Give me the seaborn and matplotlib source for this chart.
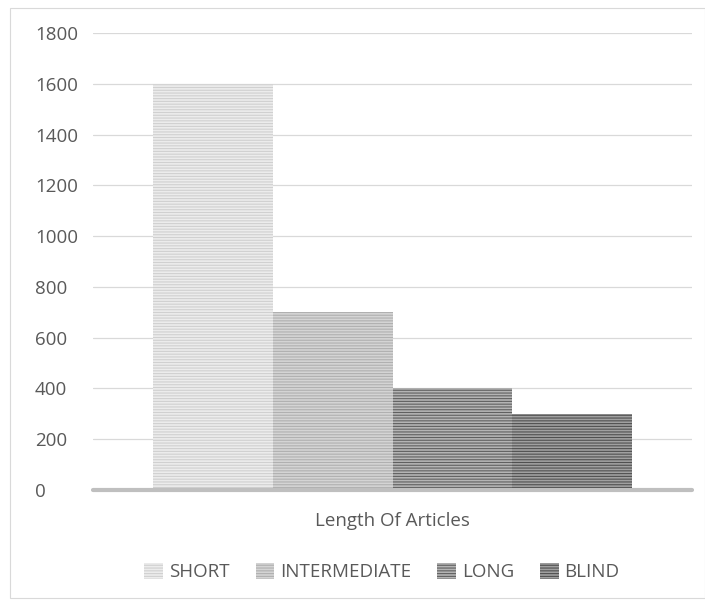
import matplotlib
matplotlib.use("Agg")
import matplotlib.pyplot as plt
import seaborn as sns
import pandas as pd
from matplotlib.patches import Rectangle, Patch

categories = ["SHORT", "INTERMEDIATE", "LONG", "BLIND"]
values = [1600, 700, 400, 300]
group = ["Length Of Articles"] * 4
yticks = [0, 200, 400, 600, 800, 1000, 1200, 1400, 1600, 1800]

face_colors = ["#ececec", "#d4d4d4", "#b4b4b4", "#a0a0a0"]
hatch_colors = ["#d0d0d0", "#b0b0b0", "#606060", "#505050"]

sns.set_theme(style="white")
plt.rcParams["font.family"] = ["Open Sans", "DejaVu Sans"]
plt.rcParams["hatch.linewidth"] = 0.8

df = pd.DataFrame({"group": group, "cat": categories, "val": values})

fig = plt.figure(figsize=(7.05, 6.03), dpi=100)
ax = fig.add_axes([93 / 705, 1 - 490 / 603, (692 - 93) / 705, (490 - 33) / 603])

sns.barplot(data=df, x="group", y="val", hue="cat", hue_order=categories,
            palette=face_colors, width=0.8, ax=ax, legend=False, zorder=3)

for bar, fc, hc in zip(ax.patches, face_colors, hatch_colors):
    bar.set_facecolor(fc)
    bar.set_edgecolor(hc)
    bar.set_linewidth(0)
    bar.set_hatch("------")

ax.set_ylim(0, 1800)
ax.set_xlim(-0.5, 0.5)
ax.set_yticks(yticks)
ax.set_yticklabels([str(t) for t in yticks])
ax.grid(axis="y", color="#d9d9d9", linewidth=0.9, zorder=0)
ax.set_axisbelow(True)
for s in ax.spines.values():
    s.set_visible(False)
ax.axhline(0, color="#bfbfbf", linewidth=3, zorder=4, clip_on=False)
ax.tick_params(axis="both", length=0, labelsize=13.5, colors="#595959")
ax.tick_params(axis="y", pad=41.8)
ax.tick_params(axis="x", pad=16)
for lab in ax.get_yticklabels():
    lab.set_horizontalalignment("left")
ax.set_xlabel("")
ax.set_ylabel("")

handles = [Patch(facecolor=fc, edgecolor=hc, linewidth=0, hatch="------")
           for fc, hc in zip(face_colors, hatch_colors)]
fig.legend(handles, categories, loc="center", bbox_to_anchor=(382 / 705, 1 - 572 / 603),
           ncol=4, frameon=False, fontsize=13.5, handlelength=1.0, handleheight=1.0,
           handletextpad=0.3, columnspacing=1.4, labelcolor="#595959")

fig.patches.append(Rectangle((10 / 705, 5 / 603), 1 - 10 / 705, 1 - 13 / 603,
                             transform=fig.transFigure, fill=False,
                             edgecolor="#d9d9d9", linewidth=0.8))

fig.savefig("out.png", dpi=100)
